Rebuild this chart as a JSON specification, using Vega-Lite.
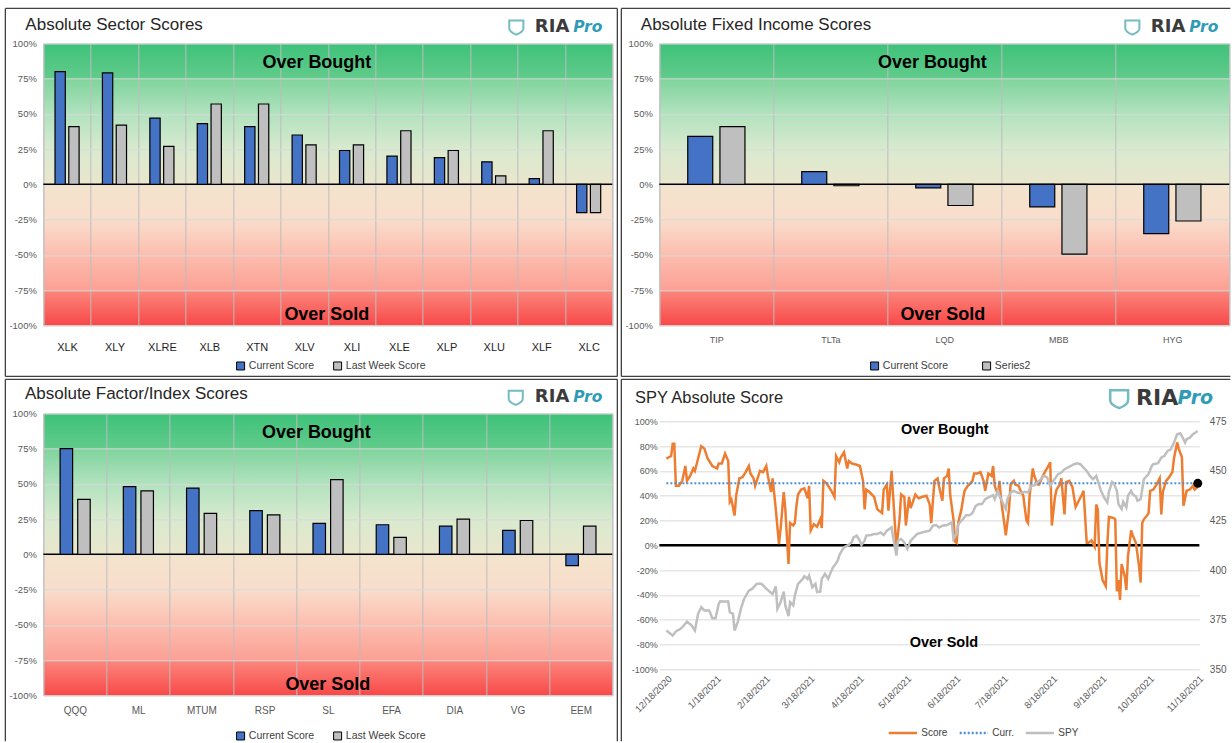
{
"$schema": "https://vega.github.io/schema/vega-lite/v6.json",
"background": "white",
"padding": {"left": 3.35, "top": 6.35, "right": 0, "bottom": 0},
"config": {"view": {"stroke": null}, "font": "Liberation Sans"},
"datasets": {
"sector": [
{"ticker":"XLK","series":"Current Score","score":80},{"ticker":"XLK","series":"Last Week Score","score":41},
{"ticker":"XLY","series":"Current Score","score":79},{"ticker":"XLY","series":"Last Week Score","score":42},
{"ticker":"XLRE","series":"Current Score","score":47},{"ticker":"XLRE","series":"Last Week Score","score":27},
{"ticker":"XLB","series":"Current Score","score":43},{"ticker":"XLB","series":"Last Week Score","score":57},
{"ticker":"XTN","series":"Current Score","score":41},{"ticker":"XTN","series":"Last Week Score","score":57},
{"ticker":"XLV","series":"Current Score","score":35},{"ticker":"XLV","series":"Last Week Score","score":28},
{"ticker":"XLI","series":"Current Score","score":24},{"ticker":"XLI","series":"Last Week Score","score":28},
{"ticker":"XLE","series":"Current Score","score":20},{"ticker":"XLE","series":"Last Week Score","score":38},
{"ticker":"XLP","series":"Current Score","score":19},{"ticker":"XLP","series":"Last Week Score","score":24},
{"ticker":"XLU","series":"Current Score","score":16},{"ticker":"XLU","series":"Last Week Score","score":6},
{"ticker":"XLF","series":"Current Score","score":4},{"ticker":"XLF","series":"Last Week Score","score":38},
{"ticker":"XLC","series":"Current Score","score":-20},{"ticker":"XLC","series":"Last Week Score","score":-20}
],
"fixed": [
{"ticker":"TIP","series":"Current Score","score":34},{"ticker":"TIP","series":"Series2","score":41},
{"ticker":"TLTa","series":"Current Score","score":9},{"ticker":"TLTa","series":"Series2","score":-1},
{"ticker":"LQD","series":"Current Score","score":-2.5},{"ticker":"LQD","series":"Series2","score":-15},
{"ticker":"MBB","series":"Current Score","score":-16},{"ticker":"MBB","series":"Series2","score":-49.5},
{"ticker":"HYG","series":"Current Score","score":-35},{"ticker":"HYG","series":"Series2","score":-26}
],
"factor": [
{"ticker":"QQQ","series":"Current Score","score":75},{"ticker":"QQQ","series":"Last Week Score","score":39},
{"ticker":"ML","series":"Current Score","score":48},{"ticker":"ML","series":"Last Week Score","score":45},
{"ticker":"MTUM","series":"Current Score","score":47},{"ticker":"MTUM","series":"Last Week Score","score":29},
{"ticker":"RSP","series":"Current Score","score":31},{"ticker":"RSP","series":"Last Week Score","score":28},
{"ticker":"SL","series":"Current Score","score":22},{"ticker":"SL","series":"Last Week Score","score":53},
{"ticker":"EFA","series":"Current Score","score":21},{"ticker":"EFA","series":"Last Week Score","score":12},
{"ticker":"DIA","series":"Current Score","score":20},{"ticker":"DIA","series":"Last Week Score","score":25},
{"ticker":"VG","series":"Current Score","score":17},{"ticker":"VG","series":"Last Week Score","score":24},
{"ticker":"EEM","series":"Current Score","score":-8},{"ticker":"EEM","series":"Last Week Score","score":20}
],
"score": [
{"d":"2020/12/18","v":70},{"d":"2020/12/21","v":72},{"d":"2020/12/22","v":82},{"d":"2020/12/23","v":82},{"d":"2020/12/24","v":48},{"d":"2020/12/26","v":48},{"d":"2020/12/28","v":52},{"d":"2020/12/30","v":64},{"d":"2020/12/31","v":52},
{"d":"2021/1/2","v":56},{"d":"2021/1/4","v":62},{"d":"2021/1/5","v":60},{"d":"2021/1/7","v":70},{"d":"2021/1/9","v":80},{"d":"2021/1/11","v":78},{"d":"2021/1/13","v":70},{"d":"2021/1/16","v":64},{"d":"2021/1/19","v":62},{"d":"2021/1/20","v":66},{"d":"2021/1/22","v":66},{"d":"2021/1/24","v":74},{"d":"2021/1/26","v":68},{"d":"2021/1/27","v":35},{"d":"2021/1/28","v":37},{"d":"2021/1/30","v":24},{"d":"2021/1/31","v":40},
{"d":"2021/2/2","v":54},{"d":"2021/2/4","v":55},{"d":"2021/2/6","v":59},{"d":"2021/2/8","v":64},{"d":"2021/2/9","v":58},{"d":"2021/2/11","v":54},{"d":"2021/2/12","v":48},{"d":"2021/2/14","v":56},{"d":"2021/2/15","v":60},{"d":"2021/2/17","v":59},{"d":"2021/2/19","v":64},{"d":"2021/2/20","v":56},{"d":"2021/2/22","v":43},{"d":"2021/2/23","v":54},{"d":"2021/2/25","v":29},{"d":"2021/2/27","v":1},{"d":"2021/2/28","v":13},
{"d":"2021/3/2","v":43},{"d":"2021/3/3","v":29},{"d":"2021/3/5","v":-15},{"d":"2021/3/6","v":18},{"d":"2021/3/8","v":16},{"d":"2021/3/9","v":18},{"d":"2021/3/10","v":32},{"d":"2021/3/11","v":41},{"d":"2021/3/13","v":45},{"d":"2021/3/15","v":46},{"d":"2021/3/17","v":38},{"d":"2021/3/18","v":48},{"d":"2021/3/19","v":12},{"d":"2021/3/21","v":17},{"d":"2021/3/23","v":15},{"d":"2021/3/25","v":21},{"d":"2021/3/26","v":14},{"d":"2021/3/27","v":52},{"d":"2021/3/29","v":50},
{"d":"2021/4/1","v":44},{"d":"2021/4/3","v":39},{"d":"2021/4/4","v":72},{"d":"2021/4/6","v":67},{"d":"2021/4/7","v":71},{"d":"2021/4/9","v":75},{"d":"2021/4/11","v":62},{"d":"2021/4/12","v":68},{"d":"2021/4/14","v":66},{"d":"2021/4/17","v":65},{"d":"2021/4/19","v":64},{"d":"2021/4/21","v":52},{"d":"2021/4/22","v":29},{"d":"2021/4/23","v":45},{"d":"2021/4/25","v":43},{"d":"2021/4/28","v":39},{"d":"2021/4/30","v":29},
{"d":"2021/5/3","v":26},{"d":"2021/5/4","v":45},{"d":"2021/5/6","v":49},{"d":"2021/5/7","v":28},{"d":"2021/5/9","v":60},{"d":"2021/5/10","v":39},{"d":"2021/5/12","v":-2},{"d":"2021/5/14","v":21},{"d":"2021/5/15","v":41},{"d":"2021/5/17","v":39},{"d":"2021/5/18","v":16},{"d":"2021/5/20","v":39},{"d":"2021/5/21","v":30},{"d":"2021/5/24","v":41},{"d":"2021/5/26","v":38},{"d":"2021/5/28","v":39},{"d":"2021/5/31","v":40},
{"d":"2021/6/2","v":33},{"d":"2021/6/3","v":18},{"d":"2021/6/5","v":52},{"d":"2021/6/7","v":54},{"d":"2021/6/8","v":47},{"d":"2021/6/10","v":36},{"d":"2021/6/11","v":54},{"d":"2021/6/13","v":56},{"d":"2021/6/14","v":62},{"d":"2021/6/15","v":40},{"d":"2021/6/17","v":21},{"d":"2021/6/18","v":3},{"d":"2021/6/19","v":2},{"d":"2021/6/20","v":18},{"d":"2021/6/22","v":29},{"d":"2021/6/23","v":37},{"d":"2021/6/24","v":44},{"d":"2021/6/26","v":48},{"d":"2021/6/27","v":49},{"d":"2021/6/29","v":52},{"d":"2021/6/30","v":58},
{"d":"2021/7/2","v":58},{"d":"2021/7/4","v":59},{"d":"2021/7/6","v":52},{"d":"2021/7/7","v":44},{"d":"2021/7/9","v":58},{"d":"2021/7/11","v":56},{"d":"2021/7/12","v":64},{"d":"2021/7/13","v":48},{"d":"2021/7/15","v":41},{"d":"2021/7/16","v":52},{"d":"2021/7/17","v":37},{"d":"2021/7/19","v":18},{"d":"2021/7/20","v":8},{"d":"2021/7/22","v":29},{"d":"2021/7/23","v":49},{"d":"2021/7/25","v":52},{"d":"2021/7/26","v":49},{"d":"2021/7/28","v":48},{"d":"2021/7/29","v":45},{"d":"2021/7/31","v":40},
{"d":"2021/8/2","v":20},{"d":"2021/8/3","v":18},{"d":"2021/8/4","v":40},{"d":"2021/8/6","v":62},{"d":"2021/8/7","v":56},{"d":"2021/8/9","v":49},{"d":"2021/8/10","v":49},{"d":"2021/8/12","v":55},{"d":"2021/8/14","v":60},{"d":"2021/8/15","v":62},{"d":"2021/8/17","v":67},{"d":"2021/8/18","v":16},{"d":"2021/8/20","v":39},{"d":"2021/8/21","v":45},{"d":"2021/8/23","v":49},{"d":"2021/8/24","v":54},{"d":"2021/8/26","v":25},{"d":"2021/8/27","v":51},{"d":"2021/8/29","v":52},{"d":"2021/8/31","v":47},
{"d":"2021/9/2","v":31},{"d":"2021/9/4","v":36},{"d":"2021/9/6","v":41},{"d":"2021/9/7","v":44},{"d":"2021/9/9","v":2},{"d":"2021/9/10","v":2},{"d":"2021/9/12","v":4},{"d":"2021/9/14","v":-1},{"d":"2021/9/15","v":33},{"d":"2021/9/16","v":29},{"d":"2021/9/17","v":-14},{"d":"2021/9/19","v":-28},{"d":"2021/9/21","v":-33},{"d":"2021/9/22","v":1},{"d":"2021/9/23","v":23},{"d":"2021/9/26","v":22},{"d":"2021/9/27","v":21},{"d":"2021/9/28","v":-37},{"d":"2021/9/29","v":-28},{"d":"2021/9/30","v":-44},
{"d":"2021/10/1","v":-15},{"d":"2021/10/3","v":-25},{"d":"2021/10/4","v":-36},{"d":"2021/10/5","v":-9},{"d":"2021/10/7","v":12},{"d":"2021/10/8","v":8},{"d":"2021/10/10","v":2},{"d":"2021/10/12","v":-17},{"d":"2021/10/13","v":-30},{"d":"2021/10/14","v":18},{"d":"2021/10/15","v":21},{"d":"2021/10/17","v":24},{"d":"2021/10/18","v":26},{"d":"2021/10/19","v":44},{"d":"2021/10/21","v":45},{"d":"2021/10/23","v":49},{"d":"2021/10/25","v":54},{"d":"2021/10/26","v":25},{"d":"2021/10/27","v":43},{"d":"2021/10/29","v":52},{"d":"2021/10/31","v":55},
{"d":"2021/11/2","v":59},{"d":"2021/11/3","v":70},{"d":"2021/11/5","v":83},{"d":"2021/11/6","v":78},{"d":"2021/11/8","v":71},{"d":"2021/11/9","v":32},{"d":"2021/11/11","v":44},{"d":"2021/11/13","v":45},{"d":"2021/11/15","v":48},{"d":"2021/11/16","v":45},{"d":"2021/11/18","v":47}
],
"spy": [
{"d":"2020/12/18","s":369.6},{"d":"2020/12/22","s":367.1},{"d":"2020/12/24","s":369.1},{"d":"2020/12/27","s":370.4},{"d":"2020/12/29","s":372.1},{"d":"2020/12/31","s":374.1},
{"d":"2021/1/3","s":372.1},{"d":"2021/1/5","s":369.6},{"d":"2021/1/7","s":378},{"d":"2021/1/9","s":381.3},{"d":"2021/1/11","s":379.7},{"d":"2021/1/14","s":379.7},{"d":"2021/1/16","s":375.8},{"d":"2021/1/18","s":375.8},{"d":"2021/1/20","s":383},{"d":"2021/1/21","s":384.3},{"d":"2021/1/24","s":384.2},{"d":"2021/1/26","s":384.2},{"d":"2021/1/27","s":378.8},{"d":"2021/1/29","s":378},{"d":"2021/1/30","s":369.6},
{"d":"2021/2/1","s":373.8},{"d":"2021/2/3","s":380.5},{"d":"2021/2/5","s":385.5},{"d":"2021/2/8","s":389.7},{"d":"2021/2/10","s":390.5},{"d":"2021/2/13","s":393.1},{"d":"2021/2/16","s":393.1},{"d":"2021/2/18","s":391.4},{"d":"2021/2/21","s":389.2},{"d":"2021/2/23","s":388},{"d":"2021/2/25","s":391.9},{"d":"2021/2/26","s":380.5},{"d":"2021/2/28","s":383.8},
{"d":"2021/3/2","s":389.2},{"d":"2021/3/3","s":382.2},{"d":"2021/3/5","s":376.8},{"d":"2021/3/6","s":383.8},{"d":"2021/3/8","s":382.2},{"d":"2021/3/9","s":387.2},{"d":"2021/3/11","s":393.1},{"d":"2021/3/14","s":395.6},{"d":"2021/3/15","s":397},{"d":"2021/3/17","s":395.6},{"d":"2021/3/18","s":397.3},{"d":"2021/3/20","s":391.4},{"d":"2021/3/22","s":393.1},{"d":"2021/3/23","s":388.9},{"d":"2021/3/25","s":389.2},{"d":"2021/3/26","s":395.6},{"d":"2021/3/28","s":398.1},{"d":"2021/3/30","s":395.6},{"d":"2021/3/31","s":397.6},
{"d":"2021/4/2","s":401.4},{"d":"2021/4/3","s":402.3},{"d":"2021/4/5","s":404.8},{"d":"2021/4/6","s":407.3},{"d":"2021/4/7","s":409},{"d":"2021/4/9","s":411.5},{"d":"2021/4/11","s":412.3},{"d":"2021/4/12","s":412.7},{"d":"2021/4/14","s":414.3},{"d":"2021/4/15","s":416.5},{"d":"2021/4/17","s":417.4},{"d":"2021/4/19","s":414.8},{"d":"2021/4/20","s":412.7},{"d":"2021/4/22","s":414.8},{"d":"2021/4/23","s":417.4},{"d":"2021/4/26","s":417.7},{"d":"2021/4/28","s":418.2},{"d":"2021/4/30","s":418.2},
{"d":"2021/5/2","s":419},{"d":"2021/5/4","s":417.7},{"d":"2021/5/6","s":419.9},{"d":"2021/5/9","s":421.5},{"d":"2021/5/10","s":416.5},{"d":"2021/5/12","s":407.3},{"d":"2021/5/13","s":414.8},{"d":"2021/5/15","s":415.7},{"d":"2021/5/17","s":414},{"d":"2021/5/19","s":410.7},{"d":"2021/5/21","s":414.8},{"d":"2021/5/23","s":416.5},{"d":"2021/5/25","s":418.2},{"d":"2021/5/27","s":418.7},{"d":"2021/5/30","s":419.4},
{"d":"2021/6/2","s":419.9},{"d":"2021/6/4","s":422.4},{"d":"2021/6/6","s":422.7},{"d":"2021/6/8","s":421.5},{"d":"2021/6/10","s":422.4},{"d":"2021/6/13","s":422.7},{"d":"2021/6/16","s":424.1},{"d":"2021/6/17","s":415.7},{"d":"2021/6/19","s":418.2},{"d":"2021/6/20","s":423.2},{"d":"2021/6/23","s":425.7},{"d":"2021/6/25","s":427.7},{"d":"2021/6/27","s":427.7},{"d":"2021/6/29","s":428.8},
{"d":"2021/7/1","s":432.4},{"d":"2021/7/3","s":433.3},{"d":"2021/7/5","s":433.3},{"d":"2021/7/7","s":435.8},{"d":"2021/7/10","s":437.1},{"d":"2021/7/12","s":437.8},{"d":"2021/7/13","s":435.8},{"d":"2021/7/15","s":440},{"d":"2021/7/16","s":437.5},{"d":"2021/7/18","s":434.1},{"d":"2021/7/20","s":430.8},{"d":"2021/7/21","s":435.8},{"d":"2021/7/23","s":439.1},{"d":"2021/7/25","s":440},{"d":"2021/7/27","s":439.1},{"d":"2021/7/29","s":438.8},
{"d":"2021/8/1","s":439.5},{"d":"2021/8/3","s":439.1},{"d":"2021/8/5","s":442.5},{"d":"2021/8/7","s":442.8},{"d":"2021/8/9","s":444.2},{"d":"2021/8/11","s":445.8},{"d":"2021/8/13","s":447.5},{"d":"2021/8/15","s":446.7},{"d":"2021/8/17","s":442.5},{"d":"2021/8/19","s":445},{"d":"2021/8/22","s":448.4},{"d":"2021/8/24","s":449.2},{"d":"2021/8/26","s":450.9},{"d":"2021/8/28","s":451.7},{"d":"2021/8/30","s":452.5},
{"d":"2021/9/1","s":453.4},{"d":"2021/9/3","s":453.9},{"d":"2021/9/5","s":453.4},{"d":"2021/9/7","s":451.7},{"d":"2021/9/9","s":450},{"d":"2021/9/11","s":447.5},{"d":"2021/9/13","s":445.8},{"d":"2021/9/15","s":447.5},{"d":"2021/9/16","s":445},{"d":"2021/9/18","s":440},{"d":"2021/9/20","s":436.6},{"d":"2021/9/22","s":434.1},{"d":"2021/9/23","s":439.5},{"d":"2021/9/25","s":444.5},{"d":"2021/9/26","s":443.8},{"d":"2021/9/28","s":440},{"d":"2021/9/29","s":433.3},
{"d":"2021/10/1","s":430.8},{"d":"2021/10/2","s":434.5},{"d":"2021/10/4","s":431.6},{"d":"2021/10/5","s":437.5},{"d":"2021/10/7","s":440},{"d":"2021/10/8","s":438.3},{"d":"2021/10/10","s":437.1},{"d":"2021/10/11","s":435},{"d":"2021/10/13","s":435.8},{"d":"2021/10/15","s":445.8},{"d":"2021/10/16","s":446.7},{"d":"2021/10/18","s":448.4},{"d":"2021/10/20","s":452.5},{"d":"2021/10/21","s":453.4},{"d":"2021/10/24","s":453.9},{"d":"2021/10/26","s":456.7},{"d":"2021/10/28","s":457.6},{"d":"2021/10/30","s":460.1},
{"d":"2021/11/1","s":460.9},{"d":"2021/11/3","s":464.3},{"d":"2021/11/5","s":468.5},{"d":"2021/11/7","s":469},{"d":"2021/11/8","s":467.6},{"d":"2021/11/10","s":464.3},{"d":"2021/11/11","s":466},{"d":"2021/11/13","s":466.8},{"d":"2021/11/15","s":468.5},{"d":"2021/11/18","s":470.1}
]
},
"concat": [
{"width": 569, "height": 282,
 "view": {"stroke": "#c8c8c8", "fill": {"gradient": "linear", "x1": 0, "y1": 0, "x2": 0, "y2": 1, "stops": [{"offset": 0, "color": "#3EC27A"}, {"offset": 0.124, "color": "#62CB8B"}, {"offset": 0.126, "color": "#80D49D"}, {"offset": 0.25, "color": "#B2E2BF"}, {"offset": 0.375, "color": "#D9EACF"}, {"offset": 0.5, "color": "#EAE6CC"}, {"offset": 0.5, "color": "#F3E4CD"}, {"offset": 0.625, "color": "#F9DDCC"}, {"offset": 0.75, "color": "#FCBDAE"}, {"offset": 0.874, "color": "#FBA094"}, {"offset": 0.876, "color": "#FB867C"}, {"offset": 1, "color": "#F84848"}]}},
 "layer": [
  {"data": {"values": [{"z": 0}]}, "mark": {"type": "rule", "color": "#000000", "strokeWidth": 1.5}, "encoding": {"y": {"datum": 0}}},
  {"data": {"name": "sector"}, "transform": [{"filter": "datum.series === 'Current Score'"}], "mark": {"type": "bar", "width": 10.3, "xOffset": -6.9, "stroke": "#000000", "strokeWidth": 1.2},
   "encoding": {
    "x": {"field": "ticker", "type": "nominal", "scale": {"domain": ["XLK","XLY","XLRE","XLB","XTN","XLV","XLI","XLE","XLP","XLU","XLF","XLC"], "paddingInner": 0, "paddingOuter": 0}, "axis": {"labelAngle": 0, "labelFontSize": 11, "labelColor": "#1e1e1e", "labelPadding": 16, "grid": true, "gridColor": "#bdbdbd", "tickBand": "extent", "ticks": false, "domain": false, "title": null}},
    "y": {"field": "score", "type": "quantitative", "scale": {"domain": [-100, 100], "nice": false}, "axis": {"values": [-100,-75,-50,-25,0,25,50,75,100], "tickCount": 40, "labelExpr": "datum.value + '%'", "labelOverlap": false, "grid": true, "gridColor": "#d9d9d9", "labelFontSize": 9.5, "labelColor": "#595959", "labelPadding": 7, "domain": false, "ticks": false, "title": null}},
    "color": {"field": "series", "type": "nominal", "scale": {"domain": ["Current Score","Last Week Score"], "range": ["#4472C4","#BFBFBF"]}, "legend": {"orient": "none", "legendX": 192, "legendY": 317, "direction": "horizontal", "title": null, "symbolType": "square", "symbolSize": 64, "symbolStrokeColor": "#000000", "symbolStrokeWidth": 1, "labelFontSize": 10.5, "labelColor": "#404040", "columnPadding": 17, "labelOffset": 3}}
   }},
  {"data": {"name": "sector"}, "transform": [{"filter": "datum.series === 'Last Week Score'"}], "mark": {"type": "bar", "width": 10.3, "xOffset": 6.9, "stroke": "#000000", "strokeWidth": 1.2},
   "encoding": {"x": {"field": "ticker", "type": "nominal"}, "y": {"field": "score", "type": "quantitative"}, "color": {"field": "series", "type": "nominal"}}},
  {"data": {"values": [{"t": "Over Bought", "p": 86}]}, "mark": {"type": "text", "fontSize": 18, "fontWeight": "bold", "color": "#000000", "dx": -11, "baseline": "middle"}, "encoding": {"y": {"field": "p", "type": "quantitative"}, "text": {"field": "t"}}},
  {"data": {"values": [{"t": "Over Sold", "p": -93}]}, "mark": {"type": "text", "fontSize": 18, "fontWeight": "bold", "color": "#000000", "dx": -1, "baseline": "middle"}, "encoding": {"y": {"field": "p", "type": "quantitative"}, "text": {"field": "t"}}},
  {"data": {"values": [{"t": "Absolute Sector Scores"}]}, "mark": {"type": "text", "align": "left", "baseline": "alphabetic", "fontSize": 17, "color": "#262626", "dx": -41.7, "dy": -13}, "encoding": {"x": {"datum": "XLK"}, "y": {"datum": 100}, "text": {"field": "t"}}},
  {"data": {"values": [{"t": "RIA"}]}, "mark": {"type": "text", "align": "right", "baseline": "middle", "font": "DejaVu Sans", "fontWeight": "bold", "fontSize": 18, "color": "#3b3b3b", "dx": -19.3, "dy": -16.5}, "encoding": {"x": {"datum": "XLC"}, "y": {"datum": 100}, "text": {"field": "t"}}},
  {"data": {"values": [{"t": "Pro"}]}, "mark": {"type": "text", "align": "right", "baseline": "middle", "font": "DejaVu Sans", "fontWeight": "bold", "fontStyle": "italic", "fontSize": 15.5, "color": "#2f9bb5", "dx": 13.7, "dy": -16.5}, "encoding": {"x": {"datum": "XLC"}, "y": {"datum": 100}, "text": {"field": "t"}}},
  {"data": {"values": [{"t": "logo"}]}, "mark": {"type": "point", "shape": "M-1,-0.9 L1,-0.9 L1,0.2 C1,0.65 0.5,0.9 0,1.1 C-0.5,0.9 -1,0.65 -1,0.2 Z", "filled": false, "stroke": "#3AA0A8", "strokeWidth": 2, "size": 200, "xOffset": -72.3, "yOffset": -16.5}, "encoding": {"x": {"datum": "XLC"}, "y": {"datum": 100}}},
  {"data": {"values": [{}]}, "mark": {"type": "rule", "color": "#404040", "strokeWidth": 1.3, "xOffset": -61.7, "x2Offset": 28.7}, "encoding": {"x": {"datum": "XLK"}, "x2": {"datum": "XLC"}, "y": {"datum": 124.8}}},
  {"data": {"values": [{}]}, "mark": {"type": "rule", "color": "#404040", "strokeWidth": 1.3, "xOffset": -61.7, "x2Offset": 28.7}, "encoding": {"x": {"datum": "XLK"}, "x2": {"datum": "XLC"}, "y": {"datum": -136.2}}},
  {"data": {"values": [{}]}, "mark": {"type": "rule", "color": "#404040", "strokeWidth": 1.3, "xOffset": -61.7}, "encoding": {"x": {"datum": "XLK"}, "y": {"datum": 124.8}, "y2": {"datum": -136.2}}},
  {"data": {"values": [{}]}, "mark": {"type": "rule", "color": "#404040", "strokeWidth": 1.3, "xOffset": 28.7}, "encoding": {"x": {"datum": "XLC"}, "y": {"datum": 124.8}, "y2": {"datum": -136.2}}}
 ]},
{"width": 570, "height": 282,
 "view": {"stroke": "#c8c8c8", "fill": {"gradient": "linear", "x1": 0, "y1": 0, "x2": 0, "y2": 1, "stops": [{"offset": 0, "color": "#3EC27A"}, {"offset": 0.124, "color": "#62CB8B"}, {"offset": 0.126, "color": "#80D49D"}, {"offset": 0.25, "color": "#B2E2BF"}, {"offset": 0.375, "color": "#D9EACF"}, {"offset": 0.5, "color": "#EAE6CC"}, {"offset": 0.5, "color": "#F3E4CD"}, {"offset": 0.625, "color": "#F9DDCC"}, {"offset": 0.75, "color": "#FCBDAE"}, {"offset": 0.874, "color": "#FBA094"}, {"offset": 0.876, "color": "#FB867C"}, {"offset": 1, "color": "#F84848"}]}},
 "layer": [
  {"data": {"values": [{"z": 0}]}, "mark": {"type": "rule", "color": "#000000", "strokeWidth": 1.5}, "encoding": {"y": {"datum": 0}}},
  {"data": {"name": "fixed"}, "transform": [{"filter": "datum.series === 'Current Score'"}], "mark": {"type": "bar", "width": 25, "xOffset": -16.1, "stroke": "#000000", "strokeWidth": 1.2},
   "encoding": {
    "x": {"field": "ticker", "type": "nominal", "scale": {"domain": ["TIP","TLTa","LQD","MBB","HYG"], "paddingInner": 0, "paddingOuter": 0}, "axis": {"labelAngle": 0, "labelFontSize": 9, "labelColor": "#595959", "labelPadding": 10, "grid": true, "gridColor": "#bdbdbd", "tickBand": "extent", "ticks": false, "domain": false, "title": null}},
    "y": {"field": "score", "type": "quantitative", "scale": {"domain": [-100, 100], "nice": false}, "axis": {"values": [-100,-75,-50,-25,0,25,50,75,100], "tickCount": 40, "labelExpr": "datum.value + '%'", "labelOverlap": false, "grid": true, "gridColor": "#d9d9d9", "labelFontSize": 9.5, "labelColor": "#595959", "labelPadding": 7, "domain": false, "ticks": false, "title": null}},
    "color": {"field": "series", "type": "nominal", "scale": {"domain": ["Current Score","Series2"], "range": ["#4472C4","#BFBFBF"]}, "legend": {"orient": "none", "legendX": 210, "legendY": 317, "direction": "horizontal", "title": null, "symbolType": "square", "symbolSize": 64, "symbolStrokeColor": "#000000", "symbolStrokeWidth": 1, "labelFontSize": 10.5, "labelColor": "#404040", "columnPadding": 32, "labelOffset": 3}}
   }},
  {"data": {"name": "fixed"}, "transform": [{"filter": "datum.series === 'Series2'"}], "mark": {"type": "bar", "width": 25, "xOffset": 16.1, "stroke": "#000000", "strokeWidth": 1.2},
   "encoding": {"x": {"field": "ticker", "type": "nominal"}, "y": {"field": "score", "type": "quantitative"}, "color": {"field": "series", "type": "nominal"}}},
  {"data": {"values": [{"t": "Over Bought", "p": 86.3}]}, "mark": {"type": "text", "fontSize": 18, "fontWeight": "bold", "color": "#000000", "dx": -12, "baseline": "middle"}, "encoding": {"y": {"field": "p", "type": "quantitative"}, "text": {"field": "t"}}},
  {"data": {"values": [{"t": "Over Sold", "p": -93}]}, "mark": {"type": "text", "fontSize": 18, "fontWeight": "bold", "color": "#000000", "dx": -1.5, "baseline": "middle"}, "encoding": {"y": {"field": "p", "type": "quantitative"}, "text": {"field": "t"}}},
  {"data": {"values": [{"t": "Absolute Fixed Income Scores"}]}, "mark": {"type": "text", "align": "left", "baseline": "alphabetic", "fontSize": 17, "color": "#262626", "dx": -75.5, "dy": -13}, "encoding": {"x": {"datum": "TIP"}, "y": {"datum": 100}, "text": {"field": "t"}}},
  {"data": {"values": [{"t": "RIA"}]}, "mark": {"type": "text", "align": "right", "baseline": "middle", "font": "DejaVu Sans", "fontWeight": "bold", "fontSize": 18, "color": "#3b3b3b", "dx": 13, "dy": -16.5}, "encoding": {"x": {"datum": "HYG"}, "y": {"datum": 100}, "text": {"field": "t"}}},
  {"data": {"values": [{"t": "Pro"}]}, "mark": {"type": "text", "align": "right", "baseline": "middle", "font": "DejaVu Sans", "fontWeight": "bold", "fontStyle": "italic", "fontSize": 15.5, "color": "#2f9bb5", "dx": 46, "dy": -16.5}, "encoding": {"x": {"datum": "HYG"}, "y": {"datum": 100}, "text": {"field": "t"}}},
  {"data": {"values": [{"t": "logo"}]}, "mark": {"type": "point", "shape": "M-1,-0.9 L1,-0.9 L1,0.2 C1,0.65 0.5,0.9 0,1.1 C-0.5,0.9 -1,0.65 -1,0.2 Z", "filled": false, "stroke": "#3AA0A8", "strokeWidth": 2, "size": 200, "xOffset": -40, "yOffset": -16.5}, "encoding": {"x": {"datum": "HYG"}, "y": {"datum": 100}}},
  {"data": {"values": [{}]}, "mark": {"type": "rule", "color": "#404040", "strokeWidth": 1.3, "xOffset": -95, "x2Offset": 58}, "encoding": {"x": {"datum": "TIP"}, "x2": {"datum": "HYG"}, "y": {"datum": 124.8}}},
  {"data": {"values": [{}]}, "mark": {"type": "rule", "color": "#404040", "strokeWidth": 1.3, "xOffset": -95, "x2Offset": 58}, "encoding": {"x": {"datum": "TIP"}, "x2": {"datum": "HYG"}, "y": {"datum": -136.2}}},
  {"data": {"values": [{}]}, "mark": {"type": "rule", "color": "#404040", "strokeWidth": 1.3, "xOffset": -95}, "encoding": {"x": {"datum": "TIP"}, "y": {"datum": 124.8}, "y2": {"datum": -136.2}}}
 ]},
{"width": 569, "height": 282,
 "view": {"stroke": "#c8c8c8", "fill": {"gradient": "linear", "x1": 0, "y1": 0, "x2": 0, "y2": 1, "stops": [{"offset": 0, "color": "#3EC27A"}, {"offset": 0.124, "color": "#62CB8B"}, {"offset": 0.126, "color": "#80D49D"}, {"offset": 0.25, "color": "#B2E2BF"}, {"offset": 0.375, "color": "#D9EACF"}, {"offset": 0.5, "color": "#EAE6CC"}, {"offset": 0.5, "color": "#F3E4CD"}, {"offset": 0.625, "color": "#F9DDCC"}, {"offset": 0.75, "color": "#FCBDAE"}, {"offset": 0.874, "color": "#FBA094"}, {"offset": 0.876, "color": "#FB867C"}, {"offset": 1, "color": "#F84848"}]}},
 "layer": [
  {"data": {"values": [{"z": 0}]}, "mark": {"type": "rule", "color": "#000000", "strokeWidth": 1.5}, "encoding": {"y": {"datum": 0}}},
  {"data": {"name": "factor"}, "transform": [{"filter": "datum.series === 'Current Score'"}], "mark": {"type": "bar", "width": 12.5, "xOffset": -8.6, "stroke": "#000000", "strokeWidth": 1.2},
   "encoding": {
    "x": {"field": "ticker", "type": "nominal", "scale": {"domain": ["QQQ","ML","MTUM","RSP","SL","EFA","DIA","VG","EEM"], "paddingInner": 0, "paddingOuter": 0}, "axis": {"labelAngle": 0, "labelFontSize": 10, "labelColor": "#595959", "labelPadding": 10, "grid": true, "gridColor": "#bdbdbd", "tickBand": "extent", "ticks": false, "domain": false, "title": null}},
    "y": {"field": "score", "type": "quantitative", "scale": {"domain": [-100, 100], "nice": false}, "axis": {"values": [-100,-75,-50,-25,0,25,50,75,100], "tickCount": 40, "labelExpr": "datum.value + '%'", "labelOverlap": false, "grid": true, "gridColor": "#d9d9d9", "labelFontSize": 9.5, "labelColor": "#595959", "labelPadding": 7, "domain": false, "ticks": false, "title": null}},
    "color": {"field": "series", "type": "nominal", "scale": {"domain": ["Current Score","Last Week Score"], "range": ["#4472C4","#BFBFBF"]}, "legend": {"orient": "none", "legendX": 192, "legendY": 317, "direction": "horizontal", "title": null, "symbolType": "square", "symbolSize": 64, "symbolStrokeColor": "#000000", "symbolStrokeWidth": 1, "labelFontSize": 10.5, "labelColor": "#404040", "columnPadding": 17, "labelOffset": 3}}
   }},
  {"data": {"name": "factor"}, "transform": [{"filter": "datum.series === 'Last Week Score'"}], "mark": {"type": "bar", "width": 12.5, "xOffset": 9, "stroke": "#000000", "strokeWidth": 1.2},
   "encoding": {"x": {"field": "ticker", "type": "nominal"}, "y": {"field": "score", "type": "quantitative"}, "color": {"field": "series", "type": "nominal"}}},
  {"data": {"values": [{"t": "Over Bought", "p": 86}]}, "mark": {"type": "text", "fontSize": 18, "fontWeight": "bold", "color": "#000000", "dx": -11.5, "baseline": "middle"}, "encoding": {"y": {"field": "p", "type": "quantitative"}, "text": {"field": "t"}}},
  {"data": {"values": [{"t": "Over Sold", "p": -92.5}]}, "mark": {"type": "text", "fontSize": 18, "fontWeight": "bold", "color": "#000000", "dx": 0, "baseline": "middle"}, "encoding": {"y": {"field": "p", "type": "quantitative"}, "text": {"field": "t"}}},
  {"data": {"values": [{"t": "Absolute Factor/Index Scores"}]}, "mark": {"type": "text", "align": "left", "baseline": "alphabetic", "fontSize": 17, "color": "#262626", "dx": -50, "dy": -14}, "encoding": {"x": {"datum": "QQQ"}, "y": {"datum": 100}, "text": {"field": "t"}}},
  {"data": {"values": [{"t": "RIA"}]}, "mark": {"type": "text", "align": "right", "baseline": "middle", "font": "DejaVu Sans", "fontWeight": "bold", "fontSize": 18, "color": "#3b3b3b", "dx": -11.4, "dy": -16.3}, "encoding": {"x": {"datum": "EEM"}, "y": {"datum": 100}, "text": {"field": "t"}}},
  {"data": {"values": [{"t": "Pro"}]}, "mark": {"type": "text", "align": "right", "baseline": "middle", "font": "DejaVu Sans", "fontWeight": "bold", "fontStyle": "italic", "fontSize": 15.5, "color": "#2f9bb5", "dx": 21.6, "dy": -16.3}, "encoding": {"x": {"datum": "EEM"}, "y": {"datum": 100}, "text": {"field": "t"}}},
  {"data": {"values": [{"t": "logo"}]}, "mark": {"type": "point", "shape": "M-1,-0.9 L1,-0.9 L1,0.2 C1,0.65 0.5,0.9 0,1.1 C-0.5,0.9 -1,0.65 -1,0.2 Z", "filled": false, "stroke": "#3AA0A8", "strokeWidth": 2, "size": 200, "xOffset": -65, "yOffset": -16.3}, "encoding": {"x": {"datum": "EEM"}, "y": {"datum": 100}}},
  {"data": {"values": [{}]}, "mark": {"type": "rule", "color": "#404040", "strokeWidth": 1.3, "xOffset": -69.6, "x2Offset": 36.6}, "encoding": {"x": {"datum": "QQQ"}, "x2": {"datum": "EEM"}, "y": {"datum": 124.1}}},
  {"data": {"values": [{}]}, "mark": {"type": "rule", "color": "#404040", "strokeWidth": 1.3, "xOffset": -69.6}, "encoding": {"x": {"datum": "QQQ"}, "y": {"datum": 124.1}, "y2": {"datum": -132.6}}},
  {"data": {"values": [{}]}, "mark": {"type": "rule", "color": "#404040", "strokeWidth": 1.3, "xOffset": 36.6}, "encoding": {"x": {"datum": "EEM"}, "y": {"datum": 124.1}, "y2": {"datum": -132.6}}}
 ]},
{"width": 540, "height": 256,
 "layer": [
  {"layer": [
   {"data": {"values": [{"z": 0}]}, "mark": {"type": "rule", "color": "#000000", "strokeWidth": 2.5}, "encoding": {"y": {"datum": 0}}},
   {"data": {"name": "score"}, "mark": {"type": "line", "strokeWidth": 2.5},
    "encoding": {
     "x": {"field": "d", "type": "temporal", "scale": {"domain": [{"year": 2020, "month": 12, "date": 13, "hours": 14}, {"year": 2021, "month": 11, "date": 19}]}, "axis": {"values": [{"year":2020,"month":12,"date":18},{"year":2021,"month":1,"date":18},{"year":2021,"month":2,"date":18},{"year":2021,"month":3,"date":18},{"year":2021,"month":4,"date":18},{"year":2021,"month":5,"date":18},{"year":2021,"month":6,"date":18},{"year":2021,"month":7,"date":18},{"year":2021,"month":8,"date":18},{"year":2021,"month":9,"date":18},{"year":2021,"month":10,"date":18},{"year":2021,"month":11,"date":18}], "tickCount": 40, "format": "%-m/%-d/%Y", "labelAngle": -45, "labelOverlap": false, "labelFontSize": 9.5, "labelColor": "#595959", "labelPadding": 4, "grid": false, "ticks": false, "domain": false, "title": null}},
     "y": {"field": "v", "type": "quantitative", "scale": {"domain": [-100, 106.45], "nice": false}, "axis": {"values": [-100,-80,-60,-40,-20,0,20,40,60,80,100], "tickCount": 40, "labelExpr": "datum.value + '%'", "labelOverlap": false, "grid": true, "gridColor": "#d9d9d9", "labelFontSize": 9, "labelColor": "#595959", "labelPadding": 2, "domain": false, "ticks": false, "title": null}},
     "color": {"datum": "Score", "scale": {"domain": ["Score", "Curr.", "SPY"], "range": ["#ED7D31", "#4F8FD6", "#BFBFBF"]}, "legend": {"orient": "none", "legendX": 228, "legendY": 304, "direction": "horizontal", "title": null, "symbolType": "stroke", "symbolSize": 800, "symbolStrokeWidth": 2.5, "labelFontSize": 10, "labelColor": "#404040", "columnPadding": 6, "labelOffset": 3, "encode": {"symbols": {"update": {"strokeDash": {"signal": "datum.value === 'Curr.' ? [2, 2] : [1, 0]"}}}}}}
    }},
   {"data": {"values": [{"d": "2020/12/18", "v": 50}, {"d": "2021/11/18", "v": 50}]}, "mark": {"type": "line", "strokeWidth": 2, "strokeDash": [2, 2]}, "encoding": {"x": {"field": "d", "type": "temporal"}, "y": {"field": "v", "type": "quantitative"}, "color": {"datum": "Curr."}}},
   {"data": {"values": [{"t": "Over Bought", "p": 93}]}, "mark": {"type": "text", "fontSize": 14.5, "fontWeight": "bold", "color": "#000000", "dx": 15.5, "baseline": "middle"}, "encoding": {"y": {"field": "p", "type": "quantitative"}, "text": {"field": "t"}}},
   {"data": {"values": [{"t": "Over Sold", "p": -79}]}, "mark": {"type": "text", "fontSize": 14.5, "fontWeight": "bold", "color": "#000000", "dx": 14.5, "baseline": "middle"}, "encoding": {"y": {"field": "p", "type": "quantitative"}, "text": {"field": "t"}}},
   {"data": {"values": [{"t": "SPY Absolute Score"}]}, "mark": {"type": "text", "align": "left", "baseline": "alphabetic", "fontSize": 16.5, "color": "#262626", "dx": -31.4, "dy": -18.7}, "encoding": {"x": {"datum": {"year": 2020, "month": 12, "date": 18}}, "y": {"datum": 100}, "text": {"field": "t"}}},
   {"data": {"values": [{"t": "RIA"}]}, "mark": {"type": "text", "align": "right", "baseline": "middle", "font": "DejaVu Sans", "fontWeight": "bold", "fontSize": 22, "color": "#3b3b3b", "dx": -19.6, "dy": -23}, "encoding": {"x": {"datum": {"year": 2021, "month": 11, "date": 18}}, "y": {"datum": 100}, "text": {"field": "t"}}},
   {"data": {"values": [{"t": "Pro"}]}, "mark": {"type": "text", "align": "right", "baseline": "middle", "font": "DejaVu Sans", "fontWeight": "bold", "fontStyle": "italic", "fontSize": 19, "color": "#2f9bb5", "dx": 15.4, "dy": -23}, "encoding": {"x": {"datum": {"year": 2021, "month": 11, "date": 18}}, "y": {"datum": 100}, "text": {"field": "t"}}},
   {"data": {"values": [{"t": "logo"}]}, "mark": {"type": "point", "shape": "M-1,-0.9 L1,-0.9 L1,0.2 C1,0.65 0.5,0.9 0,1.1 C-0.5,0.9 -1,0.65 -1,0.2 Z", "filled": false, "stroke": "#3AA0A8", "strokeWidth": 2.5, "size": 320, "xOffset": -78.6, "yOffset": -23}, "encoding": {"x": {"datum": {"year": 2021, "month": 11, "date": 18}}, "y": {"datum": 100}}},
   {"data": {"values": [{}]}, "mark": {"type": "rule", "color": "#404040", "strokeWidth": 1.3, "xOffset": -38, "x2Offset": 31}, "encoding": {"x": {"datum": {"year": 2020, "month": 12, "date": 13, "hours": 14}}, "x2": {"datum": {"year": 2021, "month": 11, "date": 19}}, "y": {"datum": 133.9}}},
   {"data": {"values": [{}]}, "mark": {"type": "rule", "color": "#404040", "strokeWidth": 1.3, "xOffset": -38}, "encoding": {"x": {"datum": {"year": 2020, "month": 12, "date": 13, "hours": 14}}, "y": {"datum": 133.9}, "y2": {"datum": -158}}}
  ]},
  {"layer": [
   {"data": {"name": "spy"}, "mark": {"type": "line", "strokeWidth": 2.5},
    "encoding": {
     "x": {"field": "d", "type": "temporal"},
     "y": {"field": "s", "type": "quantitative", "scale": {"domain": [350, 479.03], "nice": false}, "axis": {"orient": "right", "values": [350, 375, 400, 425, 450, 475], "tickCount": 40, "grid": false, "labelFontSize": 10, "labelColor": "#595959", "labelPadding": 10, "domain": false, "ticks": false, "title": null}},
     "color": {"datum": "SPY"}
    }},
   {"data": {"values": [{"d": "2021/11/18", "s": 443.75}]}, "mark": {"type": "point", "filled": true, "color": "#000000", "size": 80, "opacity": 1}, "encoding": {"x": {"field": "d", "type": "temporal"}, "y": {"field": "s", "type": "quantitative"}}}
  ]}
 ],
 "resolve": {"scale": {"y": "independent"}}}
],
"columns": 2,
"spacing": {"row": 88, "column": 47},
"bounds": "flush",
"resolve": {"scale": {"color": "independent"}, "legend": {"color": "independent"}}
}
